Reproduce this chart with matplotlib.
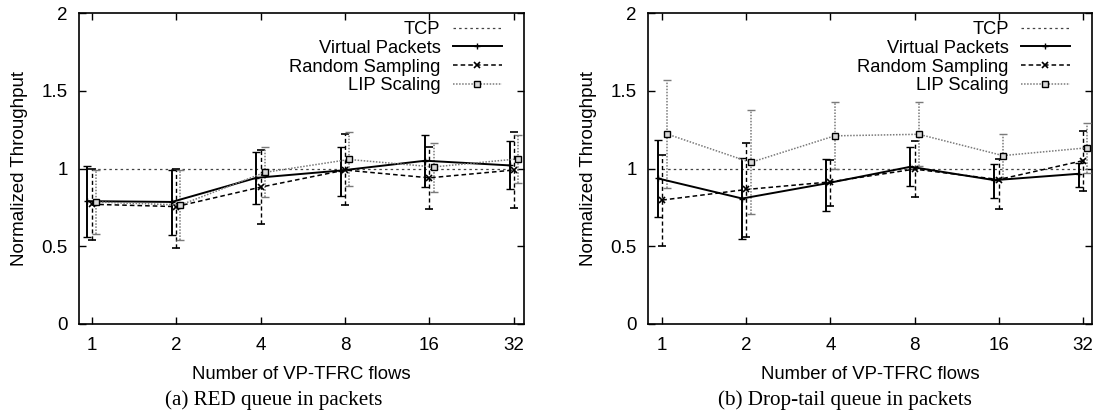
import numpy as np
import matplotlib
matplotlib.use('Agg')
import matplotlib.pyplot as plt
from matplotlib import font_manager
from matplotlib.lines import Line2D

# ---------------- data ----------------
flows = [1, 2, 4, 8, 16, 32]
tick_labels = ['1', '2', '4', '8', '16', '32']
tcp_value = [1.0, 1.0, 1.0, 1.0, 1.0, 1.0]

# (a) RED queue
red_vp = [0.79, 0.785, 0.94, 0.987, 1.05, 1.02]
red_vp_lo = [0.56, 0.57, 0.77, 0.82, 0.882, 0.865]
red_vp_hi = [1.015, 0.99, 1.107, 1.137, 1.214, 1.176]
red_rs = [0.77, 0.755, 0.88, 0.99, 0.94, 0.99]
red_rs_lo = [0.54, 0.49, 0.64, 0.765, 0.74, 0.747]
red_rs_hi = [1.0, 1.0, 1.12, 1.22, 1.137, 1.235]
red_lip = [0.785, 0.765, 0.975, 1.058, 1.01, 1.062]
red_lip_lo = [0.58, 0.54, 0.815, 0.89, 0.848, 0.908]
red_lip_hi = [0.99, 0.99, 1.14, 1.233, 1.165, 1.214]

# (b) Drop-tail queue
dt_vp = [0.936, 0.807, 0.904, 1.011, 0.925, 0.966]
dt_vp_lo = [0.69, 0.544, 0.724, 0.886, 0.81, 0.88]
dt_vp_hi = [1.186, 1.069, 1.062, 1.137, 1.03, 1.036]
dt_rs = [0.797, 0.865, 0.914, 0.996, 0.929, 1.05]
dt_rs_lo = [0.50, 0.559, 0.758, 0.814, 0.741, 0.854]
dt_rs_hi = [1.086, 1.165, 1.053, 1.176, 1.058, 1.244]
dt_lip = [1.223, 1.039, 1.21, 1.22, 1.083, 1.133]
dt_lip_lo = [0.872, 0.705, 0.994, 1.015, 0.94, 0.972]
dt_lip_hi = [1.572, 1.375, 1.426, 1.428, 1.223, 1.293]

series_names = ['TCP', 'Virtual Packets', 'Random Sampling', 'LIP Scaling']
captions = ['(a) RED queue in packets', '(b) Drop-tail queue in packets']
xlabel = 'Number of VP-TFRC flows'
ylabel = 'Normalized Throughput'

# ---------------- style ----------------
avail = {f.name for f in font_manager.fontManager.ttflist}
sans = 'Liberation Sans' if 'Liberation Sans' in avail else 'DejaVu Sans'
serif = 'Liberation Serif' if 'Liberation Serif' in avail else 'DejaVu Serif'
plt.rcParams['font.family'] = [sans, 'DejaVu Sans']

fig = plt.figure(figsize=(10.98, 4.17), dpi=100)
axes_rects = [[79 / 1098, 93 / 417, 445 / 1098, 311 / 417],
              [648 / 1098, 93 / 417, 444 / 1098, 311 / 417]]
xlims = [(-0.15, 5.12), (-0.17, 5.11)]
caption_x = [274 / 1098, 845 / 1098]

panels = [
    (red_vp, red_vp_lo, red_vp_hi, red_rs, red_rs_lo, red_rs_hi, red_lip, red_lip_lo, red_lip_hi),
    (dt_vp, dt_vp_lo, dt_vp_hi, dt_rs, dt_rs_lo, dt_rs_hi, dt_lip, dt_lip_lo, dt_lip_hi),
]

pos = np.log2(flows)
off = 0.05

TCP_STYLE = dict(color='#444444', lw=0.9, ls=(0, (2.0, 2.5)))
VP_STYLE = dict(color='black', ls='-', lw=1.4, marker='+', ms=5, mew=1.0)
RS_STYLE = dict(color='black', ls=(0, (3.0, 2.0)), lw=1.1, marker='x', ms=4, mew=1.2)
LIP_STYLE = dict(color='#7a7a7a', ls=(0, (1.0, 1.0)), lw=1.1, marker='s', ms=5, mew=1.0,
                 mfc='#d8d8d8', mec='black')

for k, (rect, data) in enumerate(zip(axes_rects, panels)):
    ax = fig.add_axes(rect)
    vp, vplo, vphi, rs, rslo, rshi, lip, liplo, liphi = [np.array(d) for d in data]

    ax.plot(pos, tcp_value, zorder=2, **TCP_STYLE)

    def draw(x, y, lo, hi, st, elw):
        e = ax.errorbar(x, y, yerr=[y - lo, hi - y], ecolor=st['color'], elinewidth=elw,
                        capsize=3, capthick=elw, zorder=3, **st)
        for bc in e[2]:
            bc.set_linestyle(st['ls'])
        return e

    draw(pos - off, vp, vplo, vphi, VP_STYLE, 1.4)
    draw(pos, rs, rslo, rshi, RS_STYLE, 1.0)
    draw(pos + off, lip, liplo, liphi, LIP_STYLE, 1.1)

    ax.set_xlim(*xlims[k])
    ax.set_ylim(0, 2)
    ax.set_xticks(pos)
    ax.set_xticklabels(tick_labels, fontsize=13.5)
    ax.set_yticks([0, 0.5, 1, 1.5, 2])
    ax.set_yticklabels(['0', '0.5', '1', '1.5', '2'], fontsize=13.5)
    ax.tick_params(direction='in', length=5, width=1.0, top=True, right=True)
    ax.tick_params(axis='y', pad=8)
    ax.tick_params(axis='x', pad=9)
    for s in ax.spines.values():
        s.set_linewidth(1.2)
    ax.set_ylabel(ylabel, fontsize=13.5, labelpad=10)
    ax.set_xlabel(xlabel, fontsize=13.3, labelpad=9)

    handles = [Line2D([], [], **TCP_STYLE), Line2D([], [], **VP_STYLE),
               Line2D([], [], **RS_STYLE), Line2D([], [], **LIP_STYLE)]
    ax.legend(handles, series_names, loc='upper right', markerfirst=False, frameon=False,
              fontsize=13.2, handlelength=2.7, handletextpad=0.65, labelspacing=0.1,
              borderaxespad=0.0, borderpad=0.0, bbox_to_anchor=(1 - 22 / 445, 1 - 8 / 311))

    fig.text(caption_x[k], 17 / 417, captions[k], ha='center', va='center',
             family=[serif, 'DejaVu Serif'], fontsize=15.2)

fig.savefig('out.png', dpi=100)
